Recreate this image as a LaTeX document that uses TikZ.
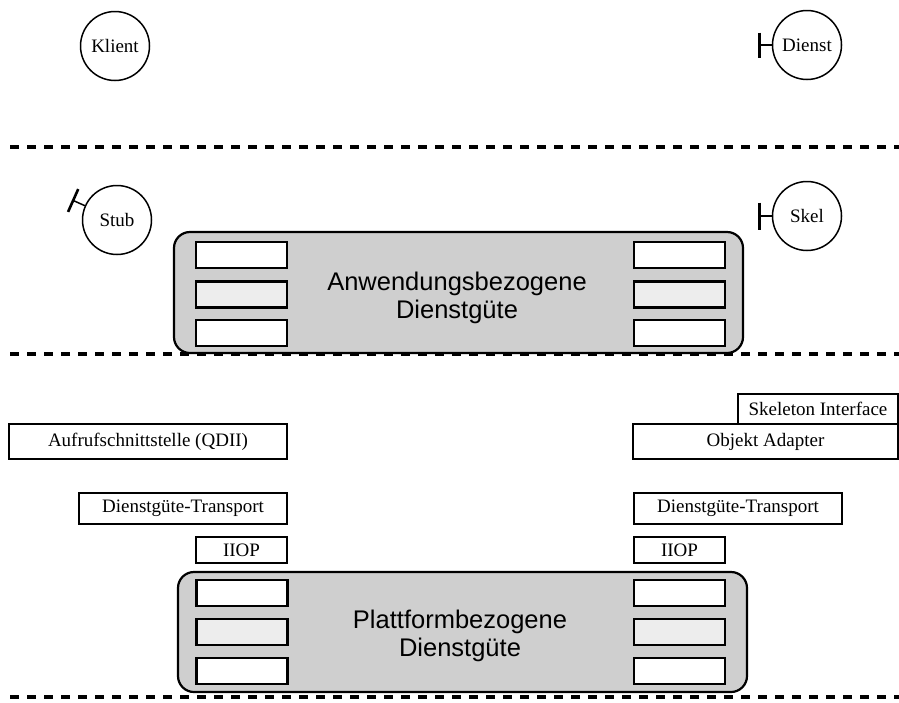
\documentclass[tikz,border=0pt]{standalone}
\usepackage{fontspec}
\setmainfont{Liberation Serif}
\newfontfamily\qossans{Liberation Sans}
\usetikzlibrary{calc}
\begin{document}
\begin{tikzpicture}[x=1pt,y=-1pt,
  layer/.style={line width=3.5pt, dash pattern=on 9pt off 8pt},
  obj/.style={circle, draw, line width=1.5pt, minimum size=69pt, inner sep=0pt,
    font=\fontsize{19}{22}\selectfont},
  tickstem/.style={line width=1.5pt},
  tickbar/.style={line width=2.6pt},
  tbox/.style={rectangle, draw, line width=2.2pt, inner sep=0pt, fill=white,
    font=\fontsize{19}{22}\selectfont},
  qosarea/.style={rectangle, rounded corners=16pt, draw, line width=2.2pt,
    fill=black!19, inner sep=0pt, minimum width=569pt},
  slot/.style={rectangle, draw, line width=2.5pt, fill=white,
    minimum width=91pt, minimum height=26pt, inner sep=0pt},
  slotdot/.style={slot, fill=black!7},
  qoslabel/.style={font=\qossans\fontsize{25.5}{28}\selectfont, align=center}
]
\useasboundingbox (0,0) rectangle (899,702);

% layer separators
\draw[layer] (10,147) -- (899,147);

% application objects
\node[obj] (klient) at (115,46) {Klient};
\node[obj] (dienst) at (807,45) {Dienst};
\node[obj] (stub) at (117,220) {Stub};
\node[obj] (skel) at (807,216) {Skel};

% interface ticks
\coordinate (dienstcap) at ($(dienst.center)!47.5pt!(dienst.180)$);
\draw[tickstem] (dienst.180) -- (dienstcap);
\draw[tickbar] ($(dienstcap)!12.5pt!90:(dienst.center)$) -- ($(dienstcap)!12.5pt!-90:(dienst.center)$);

\coordinate (stubcap) at ($(stub.center)!48pt!(stub.156)$);
\draw[tickstem] (stub.156) -- (stubcap);
\draw[tickbar] ($(stubcap)!12.5pt!90:(stub.center)$) -- ($(stubcap)!12.5pt!-90:(stub.center)$);

\coordinate (skelcap) at ($(skel.center)!47.5pt!(skel.180)$);
\draw[tickstem] (skel.180) -- (skelcap);
\draw[tickbar] ($(skelcap)!13.5pt!90:(skel.center)$) -- ($(skelcap)!13.5pt!-90:(skel.center)$);

% application-related QoS
\node[qosarea, minimum height=121pt] (appqos) at (458.5,292.5) {};
\node[slot] (al1) at (241.5,255) {};
\node[slotdot] (al2) at (241.5,294.5) {};
\node[slot] (al3) at (241.5,333) {};
\node[slot] (ar1) at (679.5,255) {};
\node[slotdot] (ar2) at (679.5,294.5) {};
\node[slot] (ar3) at (679.5,333) {};
\node[qoslabel] (applabel) at (457,297.5) {Anwendungsbezogene\\Dienstgüte};

\draw[layer] (10,354) -- (899,354);

% client side platform layers
\node[tbox, minimum width=278pt, minimum height=35pt] (qdii) at (148,441.5) {Aufrufschnittstelle (QDII)};
\node[tbox, minimum width=208pt, minimum height=31pt] (ctrans) at (183,508.5) {Dienstgüte-Transport};
\node[tbox, minimum width=91pt, minimum height=26pt] (ciiop) at (241.5,550) {IIOP};

% server side platform layers
\node[tbox, minimum width=265pt, minimum height=35pt] (oa) at (765.5,441.5) {Objekt Adapter};
\node[tbox, minimum width=160pt, minimum height=30pt] (skelif) at (818,409) {Skeleton Interface};
\node[tbox, minimum width=208pt, minimum height=31pt] (strans) at (738,508.5) {Dienstgüte-Transport};
\node[tbox, minimum width=91pt, minimum height=26pt] (siiop) at (679.5,550) {IIOP};

% platform-related QoS
\node[qosarea, minimum height=120pt] (platqos) at (462.5,632) {};
\node[slot] (pl1) at (242,593) {};
\node[slotdot] (pl2) at (242,632) {};
\node[slot] (pl3) at (242,671) {};
\node[slot] (pr1) at (679.5,593) {};
\node[slotdot] (pr2) at (679.5,632) {};
\node[slot] (pr3) at (679.5,671) {};
\node[qoslabel] (platlabel) at (460,636) {Plattformbezogene\\Dienstgüte};

\draw[layer] (10,697) -- (899,697);
\end{tikzpicture}
\end{document}
